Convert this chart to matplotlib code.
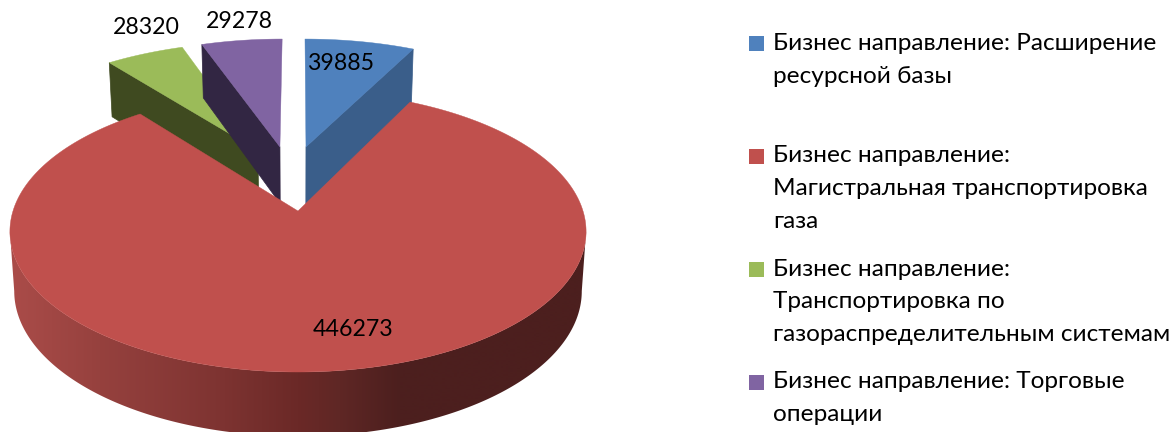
import numpy as np
import matplotlib
matplotlib.use("Agg")
import matplotlib.pyplot as plt
from matplotlib.patches import Polygon, Rectangle

plt.rcParams['font.family'] = ['Lato', 'Open Sans', 'DejaVu Sans']

# Data (the title in the reference is cut off at the top edge and cannot be read, so it is left out)
categories = [
    "Бизнес направление: Расширение\nресурсной базы",
    "Бизнес направление:\nМагистральная транспортировка\nгаза",
    "Бизнес направление:\nТранспортировка по\nгазораспределительным системам",
    "Бизнес направление: Торговые\nоперации",
]
values = [39885, 446273, 28320, 29278]
top_colors = ['#4f81bd', '#c0504d', '#9bbb59', '#8064a2']
wall_colors = ['#3a5e8a', '#5a2523', '#3f4a20', '#322643']

# ground-plane explosion of each slice (sideways, backwards) and its radius
explode = [(0.03, 0.50), (0.0, 0.0), (-0.15, 0.47), (-0.068, 0.50)]
radius = [1.03, 1.0, 1.03, 1.03]
label_pos = [(341, 64), (353.5, 330), (146, 28), (239, 21)]
legend_y = [43.5, 156, 269, 382]   # centre of each entry's first line
LINE = 32.7
LABEL_SIZE = 16.7
LEGEND_SIZE = 17.6

# Perspective pie geometry, in pixel coordinates
CX, CY, A, B, K = 298, 211, 285, 137.5, 0.146


def project(u, v):
    w = 1 / (1 + K * v)
    return CX + A * u * w, CY - B * v * w


def drop(x, y):
    """Same point on the underside of the pie."""
    return CX + (x - CX) * 0.985, y + 52 + 0.033 * y


def wedge(t0, t1, offset, r=1.0, n=80):
    t = np.radians(np.linspace(t0, t1, n))
    u = np.r_[offset[0], r * np.sin(t) + offset[0]]
    v = np.r_[offset[1], r * np.cos(t) + offset[1]]
    return project(u, v)


fig = plt.figure(figsize=(11.71, 4.32), dpi=100)
ax = fig.add_axes([0, 0, 1, 1])

angles = 360 * np.array(values) / sum(values)
starts = np.r_[0, np.cumsum(angles)[:-1]]
ends = starts + angles

# exploded slices: green, purple, blue; the visible wall of each
for i, wall_at_start in [(2, True), (3, True), (0, False)]:
    x, y = wedge(starts[i], ends[i], explode[i], radius[i])
    k = 1 if wall_at_start else -1
    x0, y0 = drop(x[0], y[0])
    x1, y1 = drop(x[k], y[k])
    ax.add_patch(Polygon([(x[0], y[0]), (x[k], y[k]), (x1, y1), (x0, y0)],
                         fc=wall_colors[i], ec=wall_colors[i], lw=0.5, zorder=2 + i * 0.01))
    ax.add_patch(Polygon(np.c_[x, y], fc=top_colors[i], ec=top_colors[i], lw=0.3,
                         zorder=2.001 + i * 0.01))

# big slice: front rim (between the two widest points) with a left-to-right shading, then top face
i = 1
t_side = np.degrees(np.arccos(-K))
rx, ry = wedge(t_side, 360 - t_side, explode[i], radius[i], n=300)
xr, yr = rx[1:], ry[1:]
xb, yb = drop(xr, yr)
shade_x = [12, 100, 225, 298, 340, 400, 590]
shade_r = [170, 150, 125, 107, 95, 76, 76]
shade_g = [76, 65, 51, 41, 39, 31, 31]
shade_b = [73, 62, 49, 39, 37, 30, 30]
grid = np.arange(0, 601)
shade = np.stack([np.interp(grid, shade_x, s) for s in (shade_r, shade_g, shade_b)], axis=1)[None, :, :] / 255
im = ax.imshow(shade, extent=(0, 600, 440, 100), aspect='auto', interpolation='bilinear', zorder=3)
rim = Polygon(np.c_[np.r_[xr, xb[::-1]], np.r_[yr, yb[::-1]]], transform=ax.transData, fc='none', ec='none')
ax.add_patch(rim)
im.set_clip_path(rim)
x, y = wedge(starts[i], ends[i], explode[i], radius[i], n=400)
ax.add_patch(Polygon(np.c_[x, y], fc=top_colors[i], ec=top_colors[i], lw=0.3, zorder=4))

ax.set_xlim(0, 1171)
ax.set_ylim(432, 0)
ax.axis('off')

# value labels
for v, (lx, ly) in zip(values, label_pos):
    ax.text(lx, ly, str(v), ha='center', va='center', fontsize=LABEL_SIZE, color='black', zorder=5)

# legend
for text, col, ly in zip(categories, top_colors, legend_y):
    ax.add_patch(Rectangle((749, ly - 7.5), 15, 15, fc=col, ec='none', zorder=5))
    for n, line in enumerate(text.split("\n")):
        ax.text(773, ly + n * LINE, line, ha='left', va='center', fontsize=LEGEND_SIZE, color='black', zorder=5)

fig.savefig("out.png", dpi=100, facecolor='white')
